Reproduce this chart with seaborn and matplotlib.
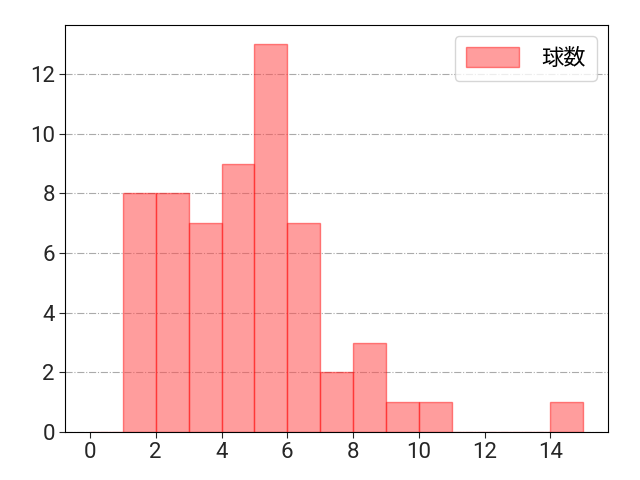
import numpy as np
import pandas as pd
import matplotlib
matplotlib.use("Agg")
import matplotlib.pyplot as plt
import seaborn as sns

sns.set_style("white")
plt.rcParams['font.family'] = ['Roboto', 'Noto Sans CJK JP', 'DejaVu Sans']

# bin left edges and counts
bin_left = [0, 1, 2, 3, 4, 5, 6, 7, 8, 9, 10, 11, 12, 13, 14]
counts = [0, 8, 8, 7, 9, 13, 7, 2, 3, 1, 1, 0, 0, 0, 1]
bin_edges = list(range(0, 16))
label = "球数"

df = pd.DataFrame({"pitch": bin_left, "n": counts})

fig, ax = plt.subplots(figsize=(6.4, 4.8), dpi=100)
ax.set_axisbelow(True)
ax.grid(axis="y", color="#aaaaaa", linestyle="-.", linewidth=0.8)
sns.histplot(data=df, x="pitch", weights="n", bins=bin_edges, ax=ax,
             color="#ff4d4d", alpha=0.55, edgecolor=(1, 0, 0, 0.45),
             linewidth=1.0, label=label)
ax.set_xlabel("")
ax.set_ylabel("")
ax.set_xticks([0, 2, 4, 6, 8, 10, 12, 14])
ax.tick_params(axis="both", labelsize=16, length=4, width=0.8, bottom=True, left=True)
for s in ax.spines.values():
    s.set_color("black")
    s.set_linewidth(0.8)
leg = ax.legend(loc="upper right", fontsize=16, handlelength=2.4, handleheight=1.0,
                handletextpad=1.0, borderpad=0.5, fancybox=True)
for t in leg.get_texts():
    t.set_color("black")
fig.subplots_adjust(left=0.102, right=0.95, top=0.948, bottom=0.1)
fig.savefig("out.png", dpi=100)
